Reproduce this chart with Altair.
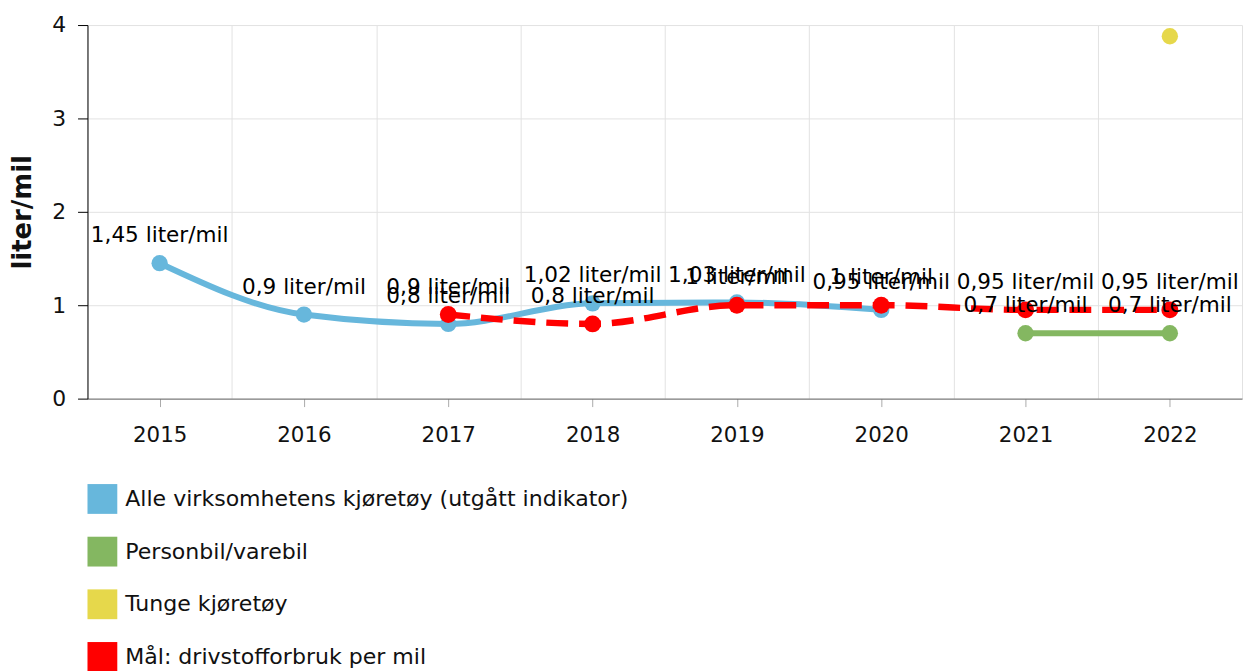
import altair as alt
import pandas as pd

years = [2015, 2016, 2017, 2018, 2019, 2020, 2021, 2022]
series_names = [
    "Alle virksomhetens kjøretøy (utgått indikator)",
    "Personbil/varebil",
    "Tunge kjøretøy",
    "Mål: drivstofforbruk per mil",
]
series_colors = ["#67b7dc", "#84b761", "#e6d84b", "#ff0000"]

alle = [1.45, 0.9, 0.8, 1.02, 1.03, 0.95, None, None]
personbil = [None, None, None, None, None, None, 0.7, 0.7]
tunge = [None, None, None, None, None, None, None, 3.88]
maal = [None, None, 0.9, 0.8, 1.0, 1.0, 0.95, 0.95]
show_label = [True, True, False, True]


def fmt(v):
    return ("%g" % v).replace(".", ",") + " liter/mil"


rows = []
for name, vals, show in zip(series_names, [alle, personbil, tunge, maal], show_label):
    for yr, v in zip(years, vals):
        if v is not None:
            rows.append({"year": yr, "series": name, "value": v,
                         "label": fmt(v) if show else ""})
df = pd.DataFrame(rows)

xscale = alt.Scale(domain=[2014.5, 2022.5], nice=False, zero=False)
x_main = alt.X("year:Q", scale=xscale, title=None,
               axis=alt.Axis(values=years, format="d", grid=False, orient="bottom",
                             tickColor="#aaaaaa", tickSize=8, domainColor="#666666",
                             labelFontSize=21.5, labelPadding=18, labelColor="#111111",
                             labelFlush=False))
x_grid = alt.X("year:Q", scale=xscale, title=None,
               axis=alt.Axis(orient="top", values=[y - 0.5 for y in years] + [2022.5],
                             grid=True, gridColor="#e2e2e2", labels=False, ticks=False,
                             domain=False))
x_none = alt.X("year:Q", scale=xscale, title=None, axis=None)
y_enc = alt.Y("value:Q", scale=alt.Scale(domain=[0, 4], nice=False),
              axis=alt.Axis(values=[0, 1, 2, 3, 4], title="liter/mil",
                            titleFontSize=26, titleFontWeight="bold", titleColor="#111111",
                            titlePadding=16, tickSize=10, tickColor="#000000",
                            domainColor="#000000", labelFontSize=22, labelColor="#111111",
                            labelPadding=12, gridColor="#e2e2e2"))

color_scale = alt.Scale(domain=series_names, range=series_colors)
line_scale = alt.Scale(domain=series_names[:2], range=series_colors[:2])
legend = alt.Legend(title=None, orient="none", legendX=0, legendY=462,
                    direction="vertical", symbolType="square",
                    symbolSize=900, symbolStrokeWidth=0, symbolOpacity=1,
                    labelFontSize=22.2, labelColor="#111111",
                    labelOffset=8, labelLimit=1000, rowPadding=23)
color_enc = alt.Color("series:N", scale=color_scale, legend=legend)

base = alt.Chart(df)

solid_lines = base.transform_filter(
    alt.FieldOneOfPredicate(field="series", oneOf=[series_names[0], series_names[1]])
).mark_line(strokeWidth=6, interpolate="monotone").encode(
    x=x_grid, y=y_enc,
    detail="series:N",
    stroke=alt.Stroke("series:N", scale=line_scale, legend=None),
)

points_other = base.transform_filter(
    alt.datum.series != series_names[3]
).mark_circle(size=270, opacity=1).encode(x=x_main, y=y_enc, color=color_enc)

red_line = base.transform_filter(
    alt.datum.series == series_names[3]
).mark_line(strokeWidth=6.5, interpolate="monotone", color="#ff0000",
            strokeDash=[22, 11]).encode(x=x_none, y=y_enc)

red_points = base.transform_filter(
    alt.datum.series == series_names[3]
).mark_circle(size=290, opacity=1, color="#ff0000").encode(x=x_none, y=y_enc)

labels = base.transform_filter(
    alt.datum.label != ""
).mark_text(fontSize=21.7, dy=-21, baseline="alphabetic", color="#000000").encode(
    x=x_none, y=y_enc, text="label:N")

chart = alt.layer(solid_lines, points_other, red_line, red_points, labels).resolve_axis(
    x="independent"
).properties(
    width=1162, height=376,
    autosize=alt.AutoSizeParams(type="none"),
    padding={"left": 80, "top": 15, "right": 2, "bottom": 272},
).configure(font="DejaVu Sans").configure_view(stroke=None)

chart.save("out.html", embed_options={"renderer": "svg", "actions": False})
